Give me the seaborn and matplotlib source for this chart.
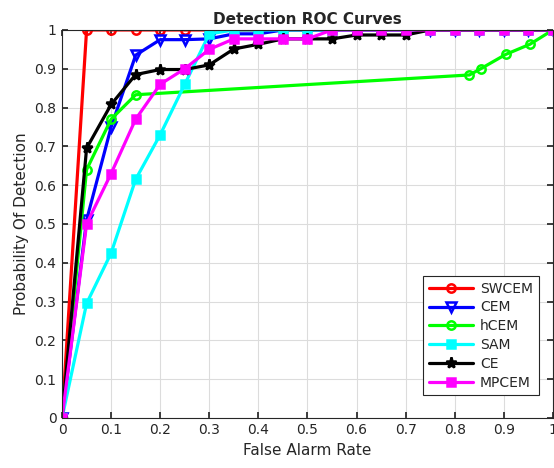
import matplotlib
matplotlib.use("Agg")
import matplotlib.pyplot as plt
import seaborn as sns
import pandas as pd

fa = [0, 0.05, 0.1, 0.15, 0.2, 0.25, 0.3, 0.35, 0.4, 0.45, 0.5,
      0.55, 0.6, 0.65, 0.7, 0.75, 0.8, 0.85, 0.9, 0.95, 1.0]

swcem = [0] + [1.0] * 20
cem = [0, 0.51, 0.75, 0.935, 0.975, 0.975, 0.977, 0.99, 0.99, 1.0, 1.0,
       1.0, 1.0, 1.0, 1.0, 1.0, 1.0, 1.0, 1.0, 1.0, 1.0]
hcem_x = [0, 0.05, 0.1, 0.15, 0.83, 0.853, 0.904, 0.953, 1.0]
hcem = [0, 0.64, 0.77, 0.833, 0.884, 0.9, 0.937, 0.963, 1.0]
sam = [0, 0.295, 0.425, 0.615, 0.73, 0.86, 0.99, 1.0, 1.0, 1.0, 1.0,
       1.0, 1.0, 1.0, 1.0, 1.0, 1.0, 1.0, 1.0, 1.0, 1.0]
ce = [0, 0.695, 0.808, 0.885, 0.898, 0.898, 0.91, 0.951, 0.963, 0.977, 0.977,
      0.977, 0.987, 0.987, 0.987, 1.0, 1.0, 1.0, 1.0, 1.0, 1.0]
mpcem = [0, 0.5, 0.63, 0.77, 0.86, 0.9, 0.95, 0.977, 0.977, 0.977, 0.977,
         1.0, 1.0, 1.0, 1.0, 1.0, 1.0, 1.0, 1.0, 1.0, 1.0]

names = ["SWCEM", "CEM", "hCEM", "SAM", "CE", "MPCEM"]
xs = [fa, fa, hcem_x, fa, fa, fa]
ys = [swcem, cem, hcem, sam, ce, mpcem]
colors = ["#ff0000", "#0000ff", "#00ff00", "#00ffff", "#000000", "#ff00ff"]
markers = ["o", "v", "o", "s", "*", "s"]
filled = [False, False, False, True, True, True]
msizes = [6, 6.5, 6, 6, 8, 6]

sns.set_theme(style="whitegrid")
plt.rcParams['font.family'] = ['DejaVu Sans']

fig = plt.figure(figsize=(5.54, 4.68), dpi=100)
ax = fig.add_axes([0.112, 0.107, 0.886, 0.829])

for n, x, y, c, m, f, ms in zip(names, xs, ys, colors, markers, filled, msizes):
    df = pd.DataFrame({"x": x, "y": y})
    sns.lineplot(data=df, x="x", y="y", ax=ax, color=c, marker=m,
                 markersize=ms, linewidth=2.3,
                 markerfacecolor=(c if f else "none"), markeredgecolor=c,
                 markeredgewidth=1.8, label=n, sort=False)

ax.set_xlim(0, 1)
ax.set_ylim(0, 1)
ax.set_xticks([i / 10 for i in range(11)])
ax.set_yticks([i / 10 for i in range(11)])
ax.set_xticklabels(["0"] + [f"{i/10:g}" for i in range(1, 10)] + ["1"])
ax.set_yticklabels(["0"] + [f"{i/10:g}" for i in range(1, 10)] + ["1"])
ax.tick_params(labelsize=10, colors="#262626", direction="in", length=4,
               top=True, right=True, bottom=True, left=True, pad=4)
ax.grid(True, color="#dcdcdc", linewidth=0.8)
ax.set_facecolor("white")
for s in ax.spines.values():
    s.set_color("#262626")
    s.set_linewidth(0.8)
ax.set_xlabel("False Alarm Rate", fontsize=11, color="#262626")
ax.set_ylabel("Probability Of Detection", fontsize=11, color="#262626")
ax.set_title("Detection ROC Curves", fontsize=11, fontweight="bold", pad=4)

leg = ax.legend(loc="lower right", bbox_to_anchor=(0.985, 0.04), fontsize=10,
                frameon=True, fancybox=False, edgecolor="#262626",
                framealpha=1, handlelength=3.2, borderpad=0.4,
                labelspacing=0.35, handletextpad=0.5)
leg.get_frame().set_linewidth(0.8)

fig.savefig("out.png", dpi=100)
